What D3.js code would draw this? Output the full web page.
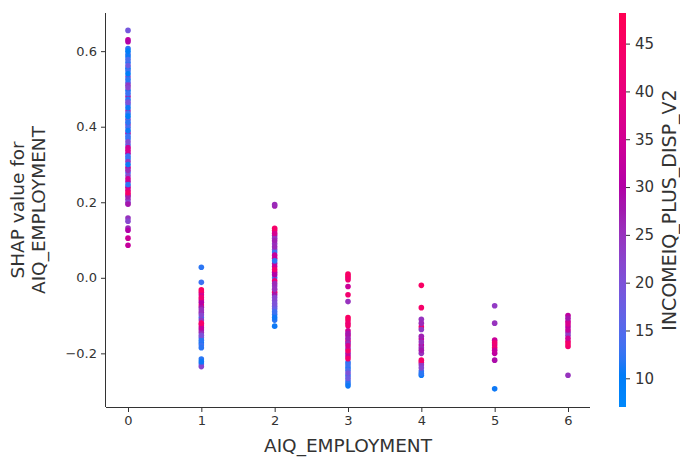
<!DOCTYPE html>
<html>
<head>
<meta charset="utf-8">
<script src="https://cdn.jsdelivr.net/npm/d3@7"></script>
<style>
  html, body { margin: 0; padding: 0; background: #fff; }
  svg { display: block; font-family: "DejaVu Sans", sans-serif; }
</style>
</head>
<body>
<svg id="chart" width="680" height="459"></svg>
<script>
// Feature levels on the x axis
const employmentLevels = [0, 1, 2, 3, 4, 5, 6];

// SHAP values and INCOMEIQ_PLUS_DISP_V2 values, one pair of arrays per level
const shapAt0 = [0.655, 0.630, 0.625, 0.607, 0.600, 0.592, 0.585, 0.578, 0.570, 0.562, 0.555, 0.548, 0.540,
  0.532, 0.525, 0.517, 0.510, 0.503, 0.496, 0.488, 0.480, 0.472, 0.465, 0.458, 0.450, 0.442, 0.435,
  0.428, 0.420, 0.412, 0.405, 0.398, 0.390, 0.383, 0.375, 0.368, 0.360, 0.352, 0.345, 0.338, 0.330,
  0.322, 0.315, 0.308, 0.300, 0.292, 0.285, 0.278, 0.270, 0.262, 0.255, 0.247, 0.240, 0.232, 0.225,
  0.220, 0.215, 0.208, 0.200, 0.195, 0.158, 0.150, 0.132, 0.126, 0.105, 0.086];
const incomeAt0 = [19, 32, 30, 12, 10, 13, 11, 14, 12, 18, 11, 13, 10,
  21, 12, 15, 24, 22, 11, 13, 26, 12, 20, 14, 11, 25, 13,
  10, 19, 12, 23, 14, 11, 27, 13, 12, 21, 15, 34, 36, 30,
  13, 12, 24, 11, 33, 26, 14, 22, 35, 28, 12, 31, 37, 44,
  40, 27, 25, 22, 28, 25, 22, 26, 30, 34, 33];

const shapAt1 = [0.028, -0.012, -0.032, -0.038, -0.045, -0.052, -0.058, -0.065, -0.072, -0.078, -0.085,
  -0.092, -0.098, -0.105, -0.112, -0.120, -0.125, -0.132, -0.138, -0.145, -0.152, -0.158, -0.165,
  -0.172, -0.178, -0.185, -0.215, -0.222, -0.228, -0.235];
const incomeAt1 = [12, 13, 45, 43, 36, 42, 38, 30, 44, 28, 25,
  27, 22, 13, 24, 44, 40, 33, 28, 26, 20, 18, 12,
  11, 13, 12, 12, 11, 14, 22];

const shapAt2 = [0.194, 0.190, 0.131, 0.125, 0.118, 0.112, 0.105, 0.098, 0.090, 0.082, 0.075, 0.068,
  0.060, 0.052, 0.045, 0.038, 0.030, 0.022, 0.015, 0.008, 0.000, -0.008, -0.015, -0.022, -0.030,
  -0.038, -0.045, -0.052, -0.060, -0.068, -0.075, -0.082, -0.090, -0.097, -0.105, -0.112, -0.128];
const incomeAt2 = [26, 27, 44, 42, 36, 28, 25, 27, 24, 26, 22, 13,
  33, 35, 12, 28, 34, 43, 32, 30, 14, 41, 26, 24, 25,
  44, 28, 22, 21, 20, 19, 17, 13, 12, 11, 12, 11];

const shapAt3 = [0.010, 0.005, 0.000, -0.005, -0.023, -0.045, -0.063, -0.105, -0.112, -0.120, -0.127,
  -0.140, -0.147, -0.153, -0.160, -0.167, -0.173, -0.180, -0.187, -0.193, -0.200, -0.207, -0.214,
  -0.224, -0.231, -0.238, -0.245, -0.252, -0.259, -0.266, -0.273, -0.280, -0.286];
const incomeAt3 = [45, 44, 43, 42, 34, 43, 25, 45, 44, 42, 43,
  35, 28, 33, 27, 40, 26, 36, 24, 44, 27, 33, 43,
  12, 13, 11, 14, 20, 12, 18, 13, 12, 11];

const shapAt4 = [-0.020, -0.079, -0.110, -0.120, -0.130, -0.137, -0.155, -0.162, -0.170, -0.178,
  -0.185, -0.192, -0.200, -0.218, -0.224, -0.230, -0.238, -0.247, -0.253, -0.258];
const incomeAt4 = [45, 44, 25, 26, 43, 24, 27, 33, 25, 32,
  26, 28, 25, 44, 42, 24, 22, 13, 12, 11];

const shapAt5 = [-0.074, -0.120, -0.165, -0.172, -0.178, -0.185, -0.192, -0.200, -0.218, -0.294];
const incomeAt5 = [24, 25, 34, 42, 35, 43, 33, 32, 29, 11];

const shapAt6 = [-0.100, -0.107, -0.115, -0.122, -0.130, -0.138, -0.145, -0.152, -0.160, -0.168,
  -0.175, -0.182, -0.258];
const incomeAt6 = [32, 28, 34, 36, 30, 33, 25, 24, 35, 42, 44, 43, 25];

const shapByLevel = [shapAt0, shapAt1, shapAt2, shapAt3, shapAt4, shapAt5, shapAt6];
const incomeByLevel = [incomeAt0, incomeAt1, incomeAt2, incomeAt3, incomeAt4, incomeAt5, incomeAt6];

// Axis ticks and colour range
const xTicks = [0, 1, 2, 3, 4, 5, 6];
const yTicks = [-0.2, 0.0, 0.2, 0.4, 0.6];
const colorTicks = [10, 15, 20, 25, 30, 35, 40, 45];
const colorMin = 7.0, colorMax = 48.2;

const xLabel = "AIQ_EMPLOYMENT";
const yLabelLines = ["SHAP value for", "AIQ_EMPLOYMENT"];
const colorLabel = "INCOMEIQ_PLUS_DISP_V2";

// ---- layout ----
const plot = { left: 106, right: 590, top: 13, bottom: 407 };
const axisColor = "#333333";

const svg = d3.select("#chart");

const x = d3.scaleLinear().domain([-0.3, 6.3]).range([plot.left, plot.right]);
const y = d3.scaleLinear().domain([-0.342, 0.701]).range([plot.bottom, plot.top]);

// red/blue colour map interpolated in HCL: blue -> purple (darker) -> red
function redBlue(t) {
  t = Math.max(0, Math.min(1, t));
  const l = t < 0.5 ? 54 + (40 - 54) * (t / 0.5) : 40 + (54 - 40) * ((t - 0.5) / 0.5);
  const c = 70 + 20 * t;
  const h = 266.93 + (380.32 - 266.93) * t;
  return d3.hcl(h, c, l).formatRgb();
}
const colorScale = d3.scaleSequential(redBlue).domain([colorMin, colorMax]).clamp(true);

// ---- points ----
const points = [];
employmentLevels.forEach((lvl, i) => {
  shapByLevel[i].forEach((s, j) => points.push({ x: lvl, shap: s, income: incomeByLevel[i][j] }));
});
// deterministic shuffle so colours mix in drawing order
const order = points.map((p, i) => ({ p, k: (i * 7919) % 101 }));
order.sort((a, b) => a.k - b.k);

svg.append("g")
  .selectAll("circle")
  .data(order.map(o => o.p))
  .join("circle")
  .attr("cx", d => x(d.x))
  .attr("cy", d => y(d.shap))
  .attr("r", 2.8)
  .attr("fill", d => colorScale(d.income));

// ---- axes ----
const xAxis = d3.axisBottom(x).tickValues(xTicks).tickFormat(d3.format("d")).tickSize(5).tickPadding(4);
const gx = svg.append("g").attr("transform", `translate(0,${plot.bottom})`).call(xAxis);

const yAxis = d3.axisLeft(y).tickValues(yTicks)
  .tickFormat(d => d3.format(".1f")(d).replace("-", "\u2212"))
  .tickSize(5).tickPadding(4);
const gy = svg.append("g").attr("transform", `translate(${plot.left},0)`).call(yAxis);

[gx, gy].forEach(g => {
  g.select(".domain").attr("stroke", axisColor).attr("stroke-width", 1);
  g.selectAll(".tick line").attr("stroke", axisColor);
  g.selectAll(".tick text").attr("fill", axisColor).attr("font-size", 13)
    .attr("font-family", "DejaVu Sans");
});
// trim domain paths to plain spines
gx.select(".domain").attr("d", `M${plot.left},0.5H${plot.right}`);
gy.select(".domain").attr("d", `M-0.5,${plot.top}V${plot.bottom}`);

// axis labels
svg.append("text")
  .attr("x", (plot.left + plot.right) / 2)
  .attr("y", 452)
  .attr("text-anchor", "middle")
  .attr("font-size", 18.5)
  .attr("fill", axisColor)
  .text(xLabel);

const yMid = (plot.top + plot.bottom) / 2;
yLabelLines.forEach((line, i) => {
  svg.append("text")
    .attr("transform", `translate(${24 + i * 21},${yMid}) rotate(-90)`)
    .attr("text-anchor", "middle")
    .attr("font-size", 18.5)
    .attr("fill", axisColor)
    .text(line);
});

// ---- colour bar ----
const cb = { left: 619, width: 7 };
const cbScale = d3.scaleLinear().domain([colorMin, colorMax]).range([plot.bottom, plot.top]);

const grad = svg.append("defs").append("linearGradient")
  .attr("id", "cbGrad").attr("x1", 0).attr("y1", 1).attr("x2", 0).attr("y2", 0);
d3.range(0, 1.0001, 0.02).forEach(t => {
  grad.append("stop").attr("offset", t).attr("stop-color", redBlue(t));
});
svg.append("rect")
  .attr("x", cb.left).attr("y", plot.top)
  .attr("width", cb.width).attr("height", plot.bottom - plot.top)
  .attr("fill", "url(#cbGrad)");

const cbAxis = d3.axisRight(cbScale).tickValues(colorTicks).tickSize(4).tickPadding(5);
const gcb = svg.append("g").attr("transform", `translate(${cb.left + cb.width},0)`).call(cbAxis);
gcb.select(".domain").remove();
gcb.selectAll(".tick line").attr("stroke", axisColor);
gcb.selectAll(".tick text").attr("fill", axisColor).attr("font-size", 15)
  .attr("font-family", "DejaVu Sans");

svg.append("text")
  .attr("transform", `translate(676,${yMid}) rotate(-90)`)
  .attr("text-anchor", "middle")
  .attr("font-size", 19)
  .attr("fill", axisColor)
  .text(colorLabel);
</script>
</body>
</html>
